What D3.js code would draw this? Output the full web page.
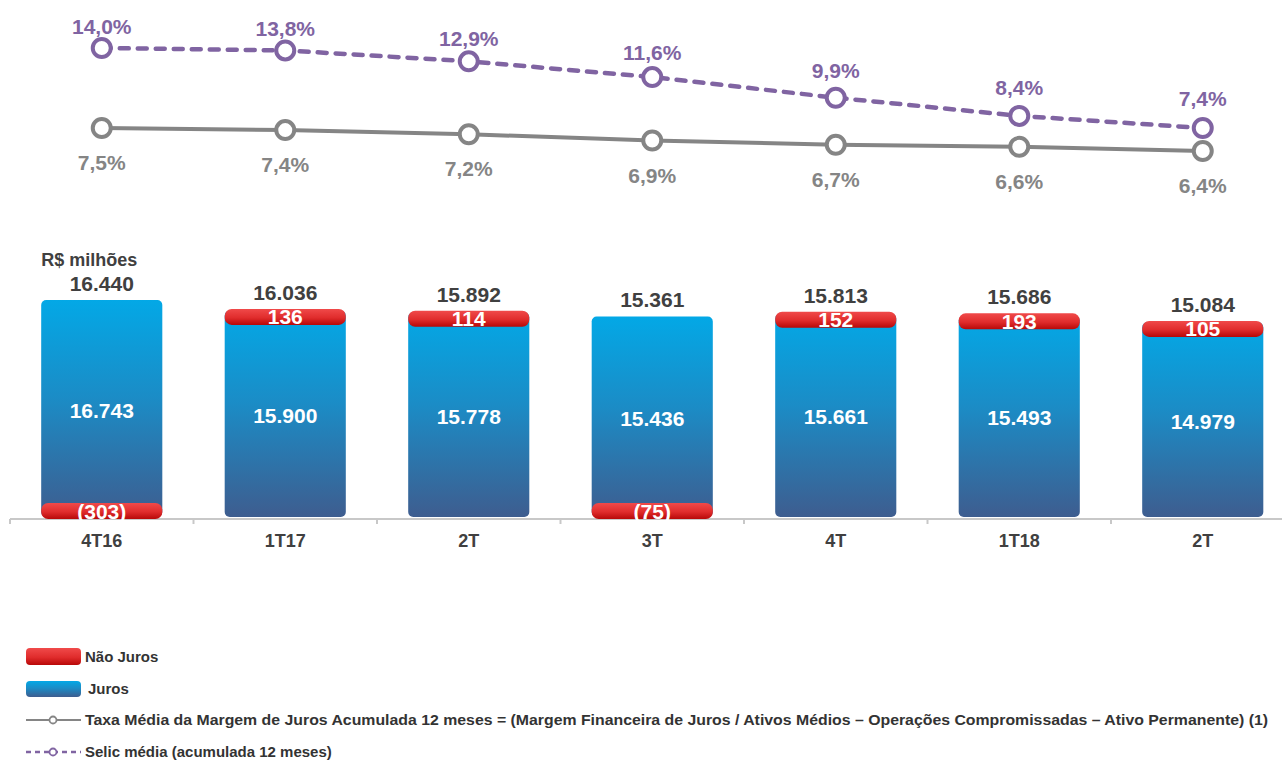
<!DOCTYPE html>
<html>
<head>
<meta charset="utf-8">
<script src="https://cdn.jsdelivr.net/npm/d3@7"></script>
<style>
  html, body { margin: 0; padding: 0; background: #fff; }
  svg { display: block; font-family: "Liberation Sans", Arial, sans-serif; }
</style>
</head>
<body>
<svg id="chart" width="1282" height="760"></svg>
<script>
// ---- data ----
const categories = ["4T16", "1T17", "2T", "3T", "4T", "1T18", "2T"];
const juros = [16743, 15900, 15778, 15436, 15661, 15493, 14979];
const naoJuros = [-303, 136, 114, -75, 152, 193, 105];
const totals = [16440, 16036, 15892, 15361, 15813, 15686, 15084];
const taxaMedia = [7.5, 7.4, 7.2, 6.9, 6.7, 6.6, 6.4];
const selic = [14.0, 13.8, 12.9, 11.6, 9.9, 8.4, 7.4];
const unitLabel = "R$ milhões";
const legendLabels = [
  "Não Juros",
  "Juros",
  "Taxa Média da Margem de Juros Acumulada 12 meses = (Margem Financeira de Juros / Ativos Médios – Operações Compromissadas – Ativo Permanente) (1)",
  "Selic média (acumulada 12 meses)"
];

// ---- setup ----
const svg = d3.select("#chart");
const locale = d3.formatLocale({decimal: ",", thousands: ".", grouping: [3], currency: ["R$", ""]});
const fmtInt = locale.format(",d");
const fmtPct = v => locale.format(".1f")(v) + "%";
const fmtSigned = v => v < 0 ? "(" + fmtInt(-v) + ")" : fmtInt(v);

const idx = d3.range(categories.length);
const x = d3.scaleBand().domain(idx).range([10, 1294.5]).paddingInner(0.34).paddingOuter(0.17);
const slot = d3.scaleBand().domain(idx).range([10, 1294.5]).padding(0);
const yBar = d3.scaleLinear().domain([-470, 16743]).range([517, 300]);
const ySelic = d3.scaleLinear().domain([14, 7.4]).range([48, 128]);
const ySelicLabel = d3.scaleLinear().domain([14, 7.4]).range([33.5, 105.5]);
const yTaxa = d3.scaleLinear().domain([7.5, 6.4]).range([128, 151]);

const PURPLE = "#8064A2", GRAY = "#858585", DARK = "#404040";

// gradients
const defs = svg.append("defs");
const gBlue = defs.append("linearGradient").attr("id", "gBlue").attr("x1", 0).attr("y1", 0).attr("x2", 0).attr("y2", 1);
gBlue.append("stop").attr("offset", "0%").attr("stop-color", "#03A8E6");
gBlue.append("stop").attr("offset", "45%").attr("stop-color", "#1B8CC6");
gBlue.append("stop").attr("offset", "100%").attr("stop-color", "#3E5D8F");
const gRed = defs.append("linearGradient").attr("id", "gRed").attr("x1", 0).attr("y1", 0).attr("x2", 0).attr("y2", 1);
gRed.append("stop").attr("offset", "0%").attr("stop-color", "#F04A4A");
gRed.append("stop").attr("offset", "55%").attr("stop-color", "#E02C2C");
gRed.append("stop").attr("offset", "100%").attr("stop-color", "#B80808");

// ---- axis ----
const axisY = yBar.range()[0] + 2;
svg.append("line").attr("x1", 10).attr("x2", 1282).attr("y1", axisY).attr("y2", axisY)
  .attr("stroke", "#C8C8C8").attr("stroke-width", 2);
svg.selectAll(".tick").data(idx).join("line")
  .attr("x1", d => slot(d)).attr("x2", d => slot(d))
  .attr("y1", axisY).attr("y2", axisY + 5)
  .attr("stroke", "#C8C8C8").attr("stroke-width", 2);
svg.selectAll(".cat").data(idx).join("text")
  .attr("x", d => x(d) + x.bandwidth() / 2).attr("y", 547)
  .attr("text-anchor", "middle").attr("font-size", 18).attr("font-weight", "bold").attr("fill", DARK)
  .text(d => categories[d]);

// ---- bars ----
const chipH = 16;
svg.selectAll(".blue").data(idx).join("rect")
  .attr("x", d => x(d)).attr("width", x.bandwidth())
  .attr("y", d => yBar(juros[d]))
  .attr("height", d => yBar.range()[0] - yBar(juros[d]))
  .attr("rx", 5).attr("fill", "url(#gBlue)");

svg.selectAll(".red").data(idx).join("rect")
  .attr("x", d => x(d)).attr("width", x.bandwidth())
  .attr("y", d => naoJuros[d] >= 0 ? yBar(totals[d]) : yBar.range()[0] + 2 - chipH)
  .attr("height", chipH).attr("rx", 7).attr("fill", "url(#gRed)");

svg.selectAll(".redlab").data(idx).join("text")
  .attr("x", d => x(d) + x.bandwidth() / 2)
  .attr("y", d => (naoJuros[d] >= 0 ? yBar(totals[d]) : yBar.range()[0] + 2 - chipH) + chipH / 2 + 7.5)
  .attr("text-anchor", "middle").attr("font-size", 21).attr("font-weight", "bold").attr("fill", "#fff")
  .text(d => fmtSigned(naoJuros[d]));

svg.selectAll(".bluelab").data(idx).join("text")
  .attr("x", d => x(d) + x.bandwidth() / 2)
  .attr("y", d => (yBar(juros[d]) + yBar.range()[0]) / 2 + 9)
  .attr("text-anchor", "middle").attr("font-size", 21).attr("font-weight", "bold").attr("fill", "#fff")
  .text(d => fmtInt(juros[d]));

svg.selectAll(".totlab").data(idx).join("text")
  .attr("x", d => x(d) + x.bandwidth() / 2)
  .attr("y", d => yBar(Math.max(juros[d], totals[d])) - 9)
  .attr("text-anchor", "middle").attr("font-size", 21).attr("font-weight", "bold").attr("fill", DARK)
  .text(d => fmtInt(totals[d]));

svg.append("text").attr("x", x(0)).attr("y", 266)
  .attr("font-size", 18).attr("font-weight", "bold").attr("fill", DARK).text(unitLabel);

// ---- lines ----
const cx = d => x(d) + x.bandwidth() / 2;
svg.append("path").datum(idx)
  .attr("d", d3.line().x(cx).y(d => yTaxa(taxaMedia[d])))
  .attr("fill", "none").attr("stroke", GRAY).attr("stroke-width", 4);
svg.append("path").datum(idx)
  .attr("d", d3.line().x(cx).y(d => ySelic(selic[d])))
  .attr("fill", "none").attr("stroke", PURPLE).attr("stroke-width", 4.5)
  .attr("stroke-dasharray", "9,9").attr("stroke-linecap", "round");

svg.selectAll(".tc").data(idx).join("circle")
  .attr("cx", cx).attr("cy", d => yTaxa(taxaMedia[d])).attr("r", 9)
  .attr("fill", "#fff").attr("stroke", GRAY).attr("stroke-width", 4);
svg.selectAll(".sc").data(idx).join("circle")
  .attr("cx", cx).attr("cy", d => ySelic(selic[d])).attr("r", 9)
  .attr("fill", "#fff").attr("stroke", PURPLE).attr("stroke-width", 4);

svg.selectAll(".tl").data(idx).join("text")
  .attr("x", cx).attr("y", d => yTaxa(taxaMedia[d]) + 42)
  .attr("text-anchor", "middle").attr("font-size", 21).attr("font-weight", "bold").attr("fill", GRAY)
  .text(d => fmtPct(taxaMedia[d]));
svg.selectAll(".sl").data(idx).join("text")
  .attr("x", cx).attr("y", d => ySelicLabel(selic[d]))
  .attr("text-anchor", "middle").attr("font-size", 21).attr("font-weight", "bold").attr("fill", PURPLE)
  .text(d => fmtPct(selic[d]));

// ---- legend ----
const lg = svg.append("g").attr("font-size", 15).attr("font-weight", "bold").attr("fill", "#333");
lg.append("rect").attr("x", 26).attr("y", 648).attr("width", 55).attr("height", 17).attr("rx", 4).attr("fill", "url(#gRed)");
lg.append("rect").attr("x", 26).attr("y", 681).attr("width", 55).attr("height", 16).attr("rx", 4).attr("fill", "url(#gBlue)");
lg.append("line").attr("x1", 26).attr("x2", 81).attr("y1", 720).attr("y2", 720).attr("stroke", GRAY).attr("stroke-width", 2);
lg.append("circle").attr("cx", 53).attr("cy", 720).attr("r", 3.5).attr("fill", "#fff").attr("stroke", GRAY).attr("stroke-width", 1.8);
lg.append("line").attr("x1", 26).attr("x2", 81).attr("y1", 752).attr("y2", 752).attr("stroke", PURPLE).attr("stroke-width", 2.5).attr("stroke-dasharray", "5,4");
lg.append("circle").attr("cx", 53).attr("cy", 752).attr("r", 3.5).attr("fill", "#fff").attr("stroke", PURPLE).attr("stroke-width", 1.8);

lg.append("text").attr("x", 85).attr("y", 662).text(legendLabels[0]);
lg.append("text").attr("x", 88).attr("y", 694).text(legendLabels[1]);
lg.append("text").attr("x", 85).attr("y", 725).attr("textLength", 1183).attr("lengthAdjust", "spacingAndGlyphs").text(legendLabels[2]);
lg.append("text").attr("x", 85).attr("y", 757).text(legendLabels[3]);
</script>
</body>
</html>
